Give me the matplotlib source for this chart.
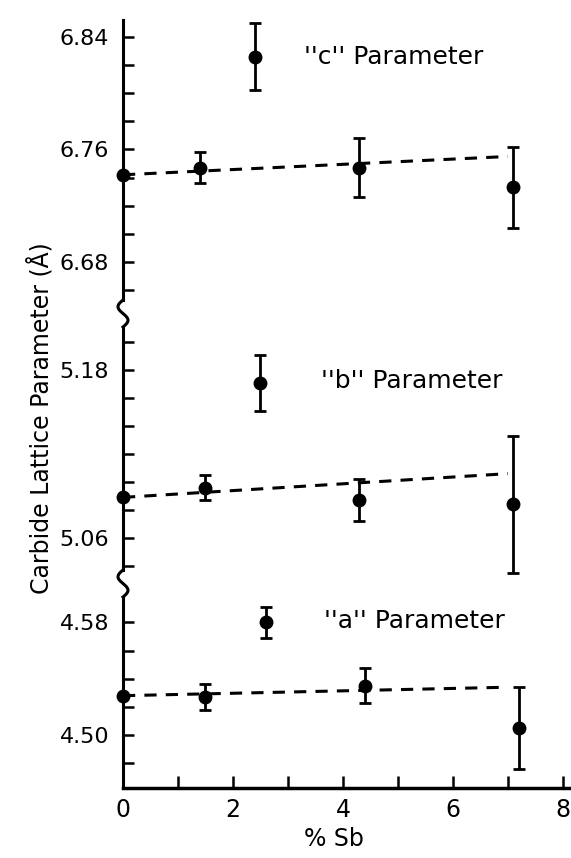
import numpy as np
import matplotlib
matplotlib.use('Agg')
import matplotlib.pyplot as plt
from matplotlib.lines import Line2D

# % Sb in the carbide samples
sb_c = [0, 1.4, 2.4, 4.3, 7.1]
sb_b = [0, 1.5, 2.5, 4.3, 7.1]
sb_a = [0, 1.5, 2.6, 4.4, 7.2]

# lattice parameters (Angstrom) and scatter
c_param = [6.742, 6.747, 6.826, 6.747, 6.733]
c_err = [0.0, 0.011, 0.024, 0.021, 0.029]
b_param = [5.089, 5.096, 5.171, 5.087, 5.084]
b_err = [0.0, 0.009, 0.020, 0.015, 0.049]
a_param = [4.528, 4.527, 4.580, 4.535, 4.505]
a_err = [0.0, 0.009, 0.011, 0.0125, 0.029]

# dashed trend lines (start / end values)
trend_x = [0, 7.0]
c_trend = [6.742, 6.755]
b_trend = [5.089, 5.106]
a_trend = [4.528, 4.534]

# y tick labels for each panel
c_ticks = [6.68, 6.76, 6.84]
b_ticks = [5.06, 5.18]
a_ticks = [4.50, 4.58]

plt.rcParams['font.family'] = 'DejaVu Sans'

fig = plt.figure(figsize=(5.71, 8.58), dpi=100)
W, H = 571, 858

def px_axes(top, bottom):
    # axes placed by pixel rows, common x range
    return fig.add_axes([123 / W, (H - bottom) / H, 448 / W, (bottom - top) / H])

ax_c = px_axes(20, 300)
ax_b = px_axes(327, 570)
ax_a = px_axes(597, 788)

panels = [
    (ax_c, sb_c, c_param, c_err, c_trend, c_ticks, (6.653, 6.852), "''c'' Parameter", 3.3, 6.826),
    (ax_b, sb_b, b_param, b_err, b_trend, b_ticks, (5.037, 5.211), "''b'' Parameter", 3.6, 5.172),
    (ax_a, sb_a, a_param, a_err, a_trend, a_ticks, (4.4625, 4.598), "''a'' Parameter", 3.65, 4.581),
]

for ax, x, y, err, trend, ticks, ylim, label, label_x, label_y in panels:
    ax.plot(trend_x, trend, color='black', lw=2.2, ls=(0, (4, 3)), zorder=2)
    ax.errorbar(x, y, yerr=err, fmt='o', color='black', ms=9, elinewidth=2,
                capsize=4, capthick=2, zorder=3, clip_on=False)
    ax.set_xlim(0, 8.15)
    ax.set_ylim(*ylim)
    minor = np.arange(ticks[0] - 0.08, ylim[1], 0.02)
    ax.set_yticks([t for t in minor if ylim[0] <= t <= ylim[1]], minor=True)
    ax.set_yticks(ticks)
    ax.set_yticklabels(['%.2f' % t for t in ticks])
    ax.tick_params(axis='y', which='both', direction='in', length=8, width=1.8,
                   labelsize=16, pad=10)
    for side in ['top', 'right', 'bottom']:
        ax.spines[side].set_visible(False)
    ax.spines['left'].set_linewidth(2.2)
    ax.text(label_x, label_y, label, fontsize=18, va='center')
    ax.patch.set_alpha(0)

for ax in [ax_c, ax_b]:
    ax.set_xticks([])

# x axis on the bottom panel
ax_a.spines['bottom'].set_visible(True)
ax_a.spines['bottom'].set_linewidth(2.5)
ax_a.set_xticks([0, 2, 4, 6, 8])
ax_a.set_xticks(range(0, 9), minor=True)
ax_a.tick_params(axis='x', which='both', direction='in', length=9, width=1.8,
                 labelsize=17, pad=7)
ax_a.set_xlabel('% Sb', fontsize=17)
ax_a.xaxis.set_label_coords(0.47, -0.205)

# wavy breaks on the y axis between panels
def axis_break(top, bottom):
    t = np.linspace(0, 1, 60)
    xs = 123 - 5 * np.sin(t * 2 * np.pi)
    ys = top + (bottom - top) * t
    fig.add_artist(Line2D(xs / W, (H - ys) / H, color='black', lw=2.2))

axis_break(300, 327)
axis_break(570, 597)

fig.text(40 / W, (H - 418) / H, 'Carbide Lattice Parameter (Å)', rotation=90,
         fontsize=17, ha='center', va='center')

fig.savefig('out.png', dpi=100)
